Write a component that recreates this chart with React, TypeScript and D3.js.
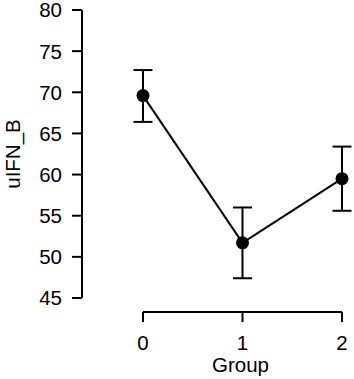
import React from "react";
import * as d3 from "d3";

const groups = [0, 1, 2];
const means = [69.6, 51.7, 59.5];
const upper = [72.7, 56.0, 63.4];
const lower = [66.4, 47.4, 55.6];
const yTicks = [45, 50, 55, 60, 65, 70, 75, 80];
const xLabel = "Group";
const yLabel = "uIFN_B";

export default function App() {
  const W = 354, H = 379;
  const x = d3.scaleLinear().domain([0, 2]).range([143, 342]);
  const y = d3.scaleLinear().domain([45, 80]).range([298, 10]);
  const font = "'Liberation Sans', Arial, sans-serif";
  const fs = 20.5;
  const line = d3.line<number>().x((_, i) => x(groups[i])).y((d) => y(d));
  const axisX = 82;
  const axisY = 312;
  const cap = 9.5;
  return (
    <svg width={W} height={H} style={{ position: "absolute", left: 0, top: 0 }}>
      <rect width={W} height={H} fill="white" />
      {/* y axis */}
      <line x1={axisX} x2={axisX} y1={y(45)} y2={y(80)} stroke="black" strokeWidth={2} />
      {yTicks.map((t) => (
        <g key={t}>
          <line x1={axisX - 10} x2={axisX} y1={y(t)} y2={y(t)} stroke="black" strokeWidth={2} />
          <text x={62} y={y(t)} dy="0.36em" textAnchor="end" fontFamily={font} fontSize={fs}>{t}</text>
        </g>
      ))}
      <text transform={`translate(20,${(y(45) + y(80)) / 2}) rotate(-90)`} textAnchor="middle" fontFamily={font} fontSize={fs}>{yLabel}</text>
      {/* x axis */}
      <line x1={x(0)} x2={x(2)} y1={axisY} y2={axisY} stroke="black" strokeWidth={2} />
      {groups.map((g) => (
        <g key={g}>
          <line x1={x(g)} x2={x(g)} y1={axisY} y2={axisY + 10} stroke="black" strokeWidth={2} />
          <text x={x(g)} y={350} textAnchor="middle" fontFamily={font} fontSize={fs}>{g}</text>
        </g>
      ))}
      <text x={x(1) - 2} y={372} textAnchor="middle" fontFamily={font} fontSize={fs}>{xLabel}</text>
      {/* error bars */}
      {groups.map((g, i) => (
        <g key={"e" + g} stroke="black" strokeWidth={2}>
          <line x1={x(g)} x2={x(g)} y1={y(upper[i])} y2={y(lower[i])} />
          <line x1={x(g) - cap} x2={x(g) + cap} y1={y(upper[i])} y2={y(upper[i])} />
          <line x1={x(g) - cap} x2={x(g) + cap} y1={y(lower[i])} y2={y(lower[i])} />
        </g>
      ))}
      <path d={line(means) || ""} fill="none" stroke="black" strokeWidth={2} />
      {groups.map((g, i) => (
        <circle key={"p" + g} cx={x(g)} cy={y(means[i])} r={6.5} fill="black" />
      ))}
    </svg>
  );
}
